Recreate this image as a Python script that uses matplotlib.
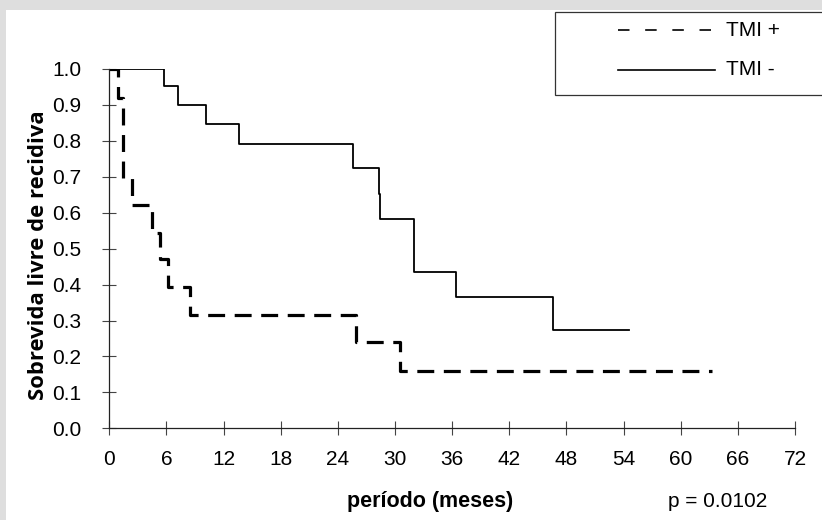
import numpy as np
import matplotlib
matplotlib.use("Agg")
import matplotlib.pyplot as plt
from matplotlib.patches import Rectangle
from matplotlib.lines import Line2D

# DATA
t_neg = [0, 5.75, 7.25, 10.2, 13.65, 25.6, 28.3, 28.45, 32.0, 36.4, 46.6, 54.6]
s_neg = [1.0, 0.953, 0.900, 0.847, 0.790, 0.724, 0.651, 0.582, 0.436, 0.365, 0.274, 0.274]

t_pos = [0, 0.95, 1.47, 2.35, 4.5, 5.3, 6.2, 8.5, 25.9, 30.5, 63.3]
s_pos = [1.0, 0.92, 0.697, 0.621, 0.544, 0.471, 0.394, 0.315, 0.239, 0.160, 0.160]

x_ticks = list(range(0, 73, 6))
y_ticks = [0.0, 0.1, 0.2, 0.3, 0.4, 0.5, 0.6, 0.7, 0.8, 0.9, 1.0]

W, H = 822, 520
fig = plt.figure(figsize=(W / 100, H / 100), dpi=100, facecolor="#dedede")

# white panel (gray band only on top and left)
fig.add_artist(Rectangle((6 / W, 0), 1, (H - 10) / H, transform=fig.transFigure,
                         facecolor="white", edgecolor="none", zorder=0))

ax = fig.add_axes([109.3 / W, (H - 428.3) / H, (795 - 109.3) / W, 359.3 / H])
ax.set_facecolor("none")

ax.plot(t_neg, s_neg, drawstyle="steps-post", color="black", lw=1.3)
ln, = ax.plot(t_pos, s_pos, drawstyle="steps-post", color="black", lw=2.3)
ln.set_dashes((5.3, 3.0))

ax.set_xlim(0, 72)
ax.set_ylim(0, 1.0)
ax.set_xticks(x_ticks)
ax.set_yticks(y_ticks)
ax.set_yticklabels([f"{v:.1f}" for v in y_ticks])

for s in ["top", "right"]:
    ax.spines[s].set_visible(False)
for s in ["left", "bottom"]:
    ax.spines[s].set_color("#222222")
    ax.spines[s].set_linewidth(0.9)
    ax.spines[s].set_clip_on(False)

ax.tick_params(axis="both", direction="inout", length=9.4, width=0.8, color="#444444")
ax.tick_params(axis="x", pad=11)
ax.tick_params(axis="y", pad=15.5)
for lab in ax.get_xticklabels() + ax.get_yticklabels():
    lab.set_fontfamily("Liberation Sans")
    lab.set_fontsize(15)

# axis titles
fig.text(38 / W, (H - 255.5) / H, "Sobrevida livre de recidiva", rotation=90,
         ha="center", va="center", fontfamily="Open Sans", fontweight="bold", fontsize=15.8)
fig.text(430 / W, 13 / H, "período (meses)", ha="center", va="baseline",
         fontfamily="Liberation Sans", fontweight="bold", fontsize=15.5)
fig.text(668 / W, 13 / H, "p = 0.0102", ha="left", va="baseline",
         fontfamily="Liberation Sans", fontsize=15)

# legend box (runs off the right edge)
fig.add_artist(Rectangle((555 / W, (H - 95) / H), 300 / W, 83 / H, transform=fig.transFigure,
                         facecolor="white", edgecolor="#333333", lw=0.9, zorder=3))
key_pos = Line2D([618 / W, 715 / W], [(H - 30) / H] * 2, transform=fig.transFigure,
                 color="black", lw=1.2, zorder=4)
key_pos.set_dashes((6.9, 9.4))
fig.add_artist(key_pos)
fig.add_artist(Line2D([618 / W, 715 / W], [(H - 69.5) / H] * 2, transform=fig.transFigure,
                      color="black", lw=1.2, zorder=4))
fig.text(726 / W, (H - 30) / H, "TMI +", ha="left", va="center",
         fontfamily="Liberation Sans", fontsize=15, zorder=5)
fig.text(726 / W, (H - 69.5) / H, "TMI -", ha="left", va="center",
         fontfamily="Liberation Sans", fontsize=15, zorder=5)

fig.savefig("out.png", dpi=100, facecolor=fig.get_facecolor())
